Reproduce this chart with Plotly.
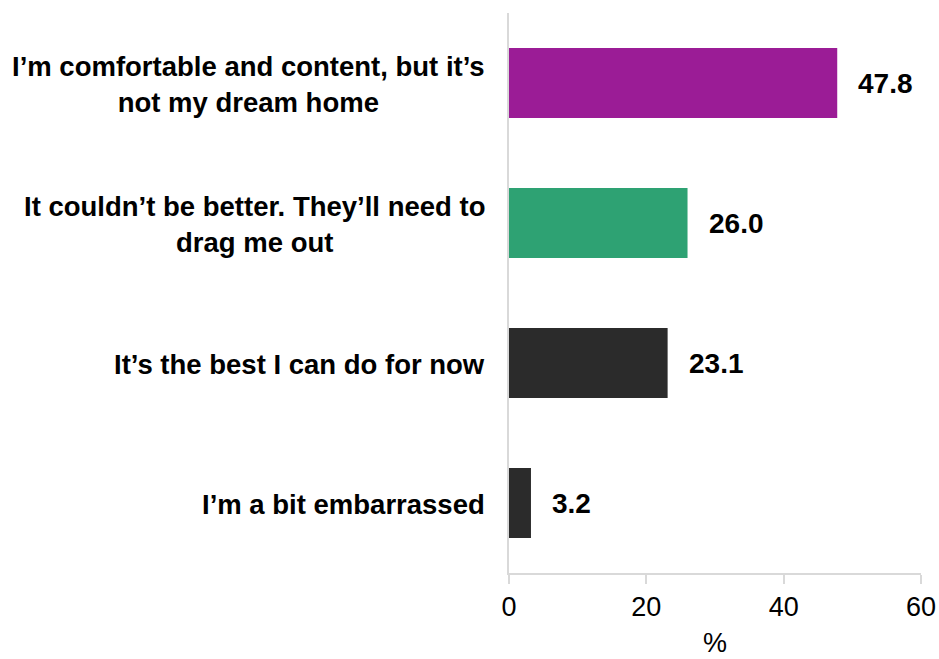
import plotly.graph_objects as go

categories = [
    "I’m comfortable and content, but it’s<br>not my dream home",
    "It couldn’t be better. They’ll need to<br>drag me out",
    "It’s the best I can do for now",
    "I’m a bit embarrassed",
]
values = [47.8, 26.0, 23.1, 3.2]
value_labels = ["47.8", "26.0", "23.1", "3.2"]
bar_colors = ["#9B1C96", "#2EA273", "#2B2B2B", "#2B2B2B"]
x_ticks = [0, 20, 40, 60]
x_title = "%"

FONT = "Arial, 'Liberation Sans', sans-serif"
AXIS = "#D9D9D9"

fig = go.Figure()
fig.add_trace(go.Bar(
    x=values, y=categories, orientation="h",
    marker=dict(color=bar_colors, line=dict(width=0)),
    width=0.5, hoverinfo="skip",
))

annotations = []
for c, v, t in zip(categories, values, value_labels):
    annotations.append(dict(
        x=v, y=c, xref="x", yref="y", text=f"<b>{t}</b>", showarrow=False,
        xanchor="left", yanchor="middle", xshift=19,
        font=dict(family=FONT, size=28, color="#000000"),
    ))
    annotations.append(dict(
        x=0, y=c, xref="paper", yref="y", text=f"<b>{c}</b>", showarrow=False,
        xanchor="right", yanchor="middle", xshift=-22, yshift=-1, align="center",
        font=dict(family=FONT, size=27.5, color="#000000"),
    ))
# x-axis title
annotations.append(dict(
    x=0.5, y=0, xref="paper", yref="paper", text=x_title, showarrow=False,
    xanchor="center", yanchor="middle", yshift=-70, height=22, borderpad=0,
    valign="middle",
    font=dict(family=FONT, size=27, color="#000000"),
))

fig.update_layout(
    width=939, height=659,
    margin=dict(l=509, r=18, t=13, b=86, autoexpand=False),
    paper_bgcolor="white", plot_bgcolor="white",
    showlegend=False,
    annotations=annotations,
    xaxis=dict(
        range=[0, 60], tickvals=x_ticks, ticktext=[str(v) for v in x_ticks],
        automargin=False, showgrid=False, zeroline=False,
        showline=True, linecolor=AXIS, linewidth=2,
        ticks="outside", ticklen=9, tickcolor=AXIS, tickwidth=2,
        tickfont=dict(family=FONT, size=27, color="#000000"),
    ),
    yaxis=dict(
        categoryorder="array", categoryarray=categories, autorange="reversed",
        automargin=False, showticklabels=False, ticks="", showgrid=False, zeroline=False,
        showline=True, linecolor=AXIS, linewidth=2,
    ),
)

fig.write_html(
    "out.html",
    config={"displayModeBar": False},
    post_script="document.body.style.margin='0';document.body.style.padding='0';",
)
